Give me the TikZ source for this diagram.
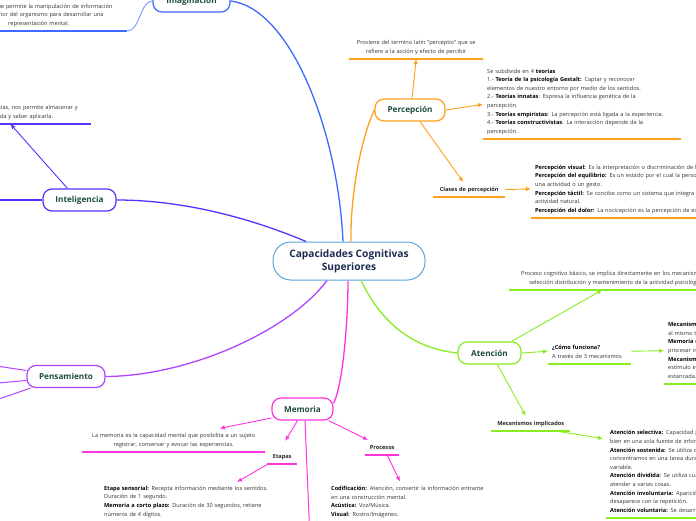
\documentclass[tikz,border=0pt]{standalone}
\usepackage{fontspec}
\setmainfont{Open Sans}
\usetikzlibrary{arrows.meta}
\definecolor{cImag}{HTML}{3D6BFF}
\definecolor{cInt}{HTML}{5533FF}
\definecolor{cPen}{HTML}{B044FF}
\definecolor{cMem}{HTML}{FF33DD}
\definecolor{cAte}{HTML}{88EE22}
\definecolor{cPer}{HTML}{FFA01C}
\definecolor{cCen}{HTML}{5AA5DC}
\definecolor{tGreen}{HTML}{1E4D3D}
\definecolor{tNavy}{HTML}{1C2B4F}
\definecolor{tText}{HTML}{333333}
\newcommand{\bt}[1]{\textbf{\color{black}#1}}
\tikzset{
  central/.style={draw=cCen, line width=1pt, fill=white, rounded corners=18pt,
    minimum width=152pt, minimum height=38pt, inner sep=0pt,
    font=\fontsize{10.2}{13}\selectfont\bfseries, text=tNavy, align=center},
  topic/.style={draw=#1, line width=1.2pt, fill=white, rounded corners=9pt,
    minimum height=22pt, inner sep=0pt,
    font=\fontsize{8.2}{10}\selectfont\bfseries, text=tGreen},
  leaf/.style={inner ysep=3pt, inner xsep=0pt, font=\fontsize{5.6}{8.6}\selectfont,
    text=tText, execute at begin node=\strut, execute at end node=\strut},
  lbl/.style={inner ysep=3pt, inner xsep=0pt, font=\fontsize{5.6}{8.6}\selectfont\bfseries,
    text=black!85, align=center, execute at begin node=\strut, execute at end node=\strut},
  branch/.style={draw=#1, line width=1.3pt},
  sub/.style={draw=#1, line width=0.9pt, -{Latex[length=5pt,width=4.5pt]}},
  ul/.style={draw=#1, line width=1.5pt},
}
\begin{document}
\begin{tikzpicture}[x=1pt,y=-1pt]
\useasboundingbox (0,0) rectangle (696,520);
\fill[white] (0,0) rectangle (696,520);
\clip (0,0) rectangle (696,520);

% main nodes
\node[central] (cc) at (349,261) {Capacidades Cognitivas\\Superiores};
\node[topic=cImag, minimum width=77pt] (im) at (191.5,1) {Imaginación};
\node[topic=cInt, minimum width=73pt] (int) at (79.5,200) {Inteligencia};
\node[topic=cPen, minimum width=78pt] (pen) at (66,376.5) {Pensamiento};
\node[topic=cMem, minimum width=61pt] (mem) at (302.5,409) {Memoria};
\node[topic=cPer, minimum width=70pt] (per) at (410,110) {Percepción};
\node[topic=cAte, minimum width=63pt] (ate) at (489.5,353) {Atención};

% main branches
\draw[branch=cImag] (im.east) .. controls (290,8) and (338,130) .. ([xshift=-6pt]cc.north);
\draw[branch=cInt] (int.east) .. controls (190,200) and (260,222) .. ([xshift=-43pt]cc.north);
\draw[branch=cPen] (pen.east) .. controls (190,376) and (290,330) .. ([xshift=-22pt]cc.south);
\draw[branch=cMem] ([yshift=6pt]mem.east) .. controls (343,385) and (348,320) .. ([xshift=-1pt]cc.south);
\draw[branch=cAte] ([xshift=12pt]cc.south) .. controls (380,320) and (410,348) .. (ate.west);
\draw[branch=cPer] (per.west) .. controls (360,140) and (350,200) .. ([xshift=2pt]cc.north);

% Imaginacion
\node[leaf, align=center, text width=177pt, anchor=south west] (imtxt) at (-50,31)
  {Capacidad que permite la manipulación de información\\en el interior del organismo para desarrollar una\\representación mental.};
\draw[ul=cImag] (imtxt.south west) -- (imtxt.south east);
\draw[branch=cImag!65, line width=1pt] (im.west) .. controls (140,1) and (140,31) .. (imtxt.south east);

% Inteligencia
\node[leaf, align=center, text width=234pt, anchor=south west] (inttxt) at (-143,124)
  {Capacidad de adquirir conocimientos y experiencias, nos permite almacenar y\\utilizar la información de forma adecuada y saber aplicarla.};
\draw[ul=cInt] (inttxt.south west) -- (inttxt.south east);
\draw[sub=cInt] ([xshift=-12pt]int.north) -- ([xshift=-81pt]inttxt.south east);
\coordinate (intoff) at (-30,200);
\draw[branch=cInt] (int.west) -- (intoff);

% Pensamiento
\coordinate (penA) at (-30,362);
\coordinate (penB) at (-30,385.5);
\coordinate (penC) at (-30,409);
\draw[branch=cPen, line width=1pt] ([yshift=6pt]pen.west) -- (penA);
\draw[branch=cPen, line width=1pt] ([yshift=-4pt]pen.west) -- (penB);
\draw[branch=cPen, line width=1pt] ([xshift=4pt]pen.south west) -- (penC);

% Percepcion
\node[leaf, align=center, text width=134pt, anchor=south west] (pdef) at (349,59)
  {Proviene del termino latín "perceptio" que se\\refiere a la acción y efecto de percibir};
\draw[ul=cPer] (pdef.south west) -- (pdef.south east);
\draw[sub=cPer] ([xshift=2pt]per.north) -- (pdef.south);

\node[leaf, align=left, inner xsep=4pt, text width=190pt, anchor=south west] (pteo) at (483,139)
  {Se subdivide en 4 \bt{teorias}\\
   1.- \bt{Teoría de la psicología Gestalt:} Captar y reconocer\\
   elementos de nuestro entorno por medio de los sentidos.\\
   2.- \bt{Teorías innatas}: Expresa la influencia genética de la\\
   percepción.\\
   3.- \bt{Teorías empiristas:} La percepción está ligada a la experiencia.\\
   4.- \bt{Teorías constructivistas}: La interacción depende de la\\
   percepción.};
\draw[ul=cPer] (pteo.south west) -- (pteo.south east);
\draw[sub=cPer] (per.east) -- ([yshift=-3pt]pteo.west);

\node[lbl, text width=72pt, anchor=south west] (clases) at (433,197) {Clases de percepción};
\draw[ul=cPer] (clases.south west) -- (clases.south east);
\draw[sub=cPer] ([xshift=10pt]per.south) -- ([xshift=-6pt]clases.north);

\node[leaf, align=left, inner xsep=4pt, text width=300pt, anchor=south west] (pcla) at (531,218)
  {\bt{Percepción visual:} Es la interpretación o discriminación de los estímulos visuales.\\
   \bt{Percepción del equilibrio:} Es un estado por el cual la persona puede realizar\\
   una actividad o un gesto.\\
   \bt{Percepción táctil:} Se concibe como un sistema que integra la información de la\\
   actividad natural.\\
   \bt{Percepción del dolor:} La nocicepción es la percepción de estímulos dolorosos.};
\draw[ul=cPer] (pcla.south west) -- (pcla.south east);
\draw[sub=cPer] (clases.east) -- (pcla.west);

% Atencion
\node[leaf, align=center, text width=216pt, anchor=south west] (adef) at (509,290)
  {Proceso cognitivo básico, se implica directamente en los mecanismos de\\selección distribución y mantenimiento de la actividad psicológica.};
\draw[ul=cAte] (adef.south west) -- (adef.south east);
\draw[sub=cAte] ([xshift=22pt]ate.north) -- ([xshift=-15pt]adef.south);

\node[leaf, align=left, inner xsep=4pt, text width=75pt, anchor=south west] (acomo) at (548,364)
  {\bt{¿Cómo funciona?}\\A través de 3 mecanismos};
\draw[ul=cAte] (acomo.south west) -- (acomo.south east);
\draw[sub=cAte] (ate.east) -- ([yshift=1pt]acomo.west);

\node[leaf, align=left, inner xsep=4pt, text width=300pt, anchor=south west] (amec) at (664,384)
  {\bt{Mecanismos selectivos:} se activan cuando debemos responder a un estímulo\\
   al mismo tiempo.\\
   \bt{Memoria de trabajo:} capacidad para mantener y\\
   procesar información.\\
   \bt{Mecanismos de mantenimiento:} se activan cuando el\\
   estímulo es constante o la tarea se mantiene\\
   estancada.};
\draw[ul=cAte] (amec.south west) -- (amec.south east);
\draw[sub=cAte] ([yshift=1pt]acomo.east) -- (amec.west);

\node[lbl, text width=79pt, anchor=south west] (aimp) at (491,431) {Mecanismos implicados};
\draw[ul=cAte] (aimp.south west) -- (aimp.south east);
\draw[sub=cAte] ([xshift=8pt]ate.south) -- ([xshift=-5pt]aimp.north);

\node[leaf, align=left, inner xsep=4pt, text width=300pt, anchor=south west] (aimpb) at (606,518)
  {\bt{Atención selectiva:} Capacidad para concentrarnos\\
   bien en una sola fuente de información.\\
   \bt{Atención sostenida:} Se utiliza cuando nos\\
   concentramos en una tarea durante un tiempo\\
   variable.\\
   \bt{Atención dividida:} Se utiliza cuando debemos\\
   atender a varias cosas.\\
   \bt{Atención involuntaria:} Aparición de un estímulo que\\
   desaparece con la repetición.\\
   \bt{Atención voluntaria:} Se desarrolla con el aprendizaje.};
\draw[ul=cAte] (aimpb.south west) -- (aimpb.south east);
\draw[sub=cAte] ([xshift=25pt]aimp.south) -- ([xshift=-3pt,yshift=-13pt]aimpb.north west);

% Memoria
\node[leaf, align=center, text width=183pt, anchor=south west] (mdef) at (82,452)
  {La memoria es la capacidad mental que posibilita a un sujeto\\registrar, conservar y evocar las experiencias.};
\draw[ul=cMem] (mdef.south west) -- (mdef.south east);
\draw[sub=cMem] ([yshift=-9pt]mem.west) -- ([xshift=46pt]mdef.north);

\node[lbl, text width=30pt, anchor=south west] (metap) at (267,464) {Etapas};
\draw[ul=cMem] (metap.south west) -- (metap.south east);
\draw[sub=cMem] ([xshift=-5pt]mem.south) -- ([xshift=3pt,yshift=8pt]metap.north);

\node[leaf, align=left, inner xsep=4pt, text width=220pt, anchor=north west] (metb) at (100,481)
  {\bt{Etapa sensorial:} Recepta información mediante los sentidos.\\
   Duración de 1 segundo.\\
   \bt{Memoria a corto plazo:} Duración de 30 segundos, retiene\\
   números de 4 dígitos.};
\draw[sub=cMem] ([xshift=1pt]metap.south west) -- ([xshift=137pt,yshift=-1pt]metb.north west);

\node[lbl, text width=34pt, anchor=south west] (mproc) at (365,455) {Procesos};
\draw[ul=cMem] (mproc.south west) -- (mproc.south east);
\draw[sub=cMem] ([xshift=-5pt]mem.south east) -- ([xshift=3pt]mproc.north west);

\node[leaf, align=left, inner xsep=4pt, text width=220pt, anchor=north west] (mprob) at (327,481.5)
  {\bt{Codificación:} Atención, convertir la información entrante\\
   en una construcción mental.\\
   \bt{Acústica:} Voz/Música.\\
   \bt{Visual:} Rostro/Imágenes.};
\draw[sub=cMem] ([xshift=5pt]mproc.south) -- ([xshift=73pt]mprob.north west);

\coordinate (memoff) at (310,540);
\draw[branch=cMem, line width=1pt] ([xshift=2.5pt]mem.south) -- (memoff);
\end{tikzpicture}
\end{document}
